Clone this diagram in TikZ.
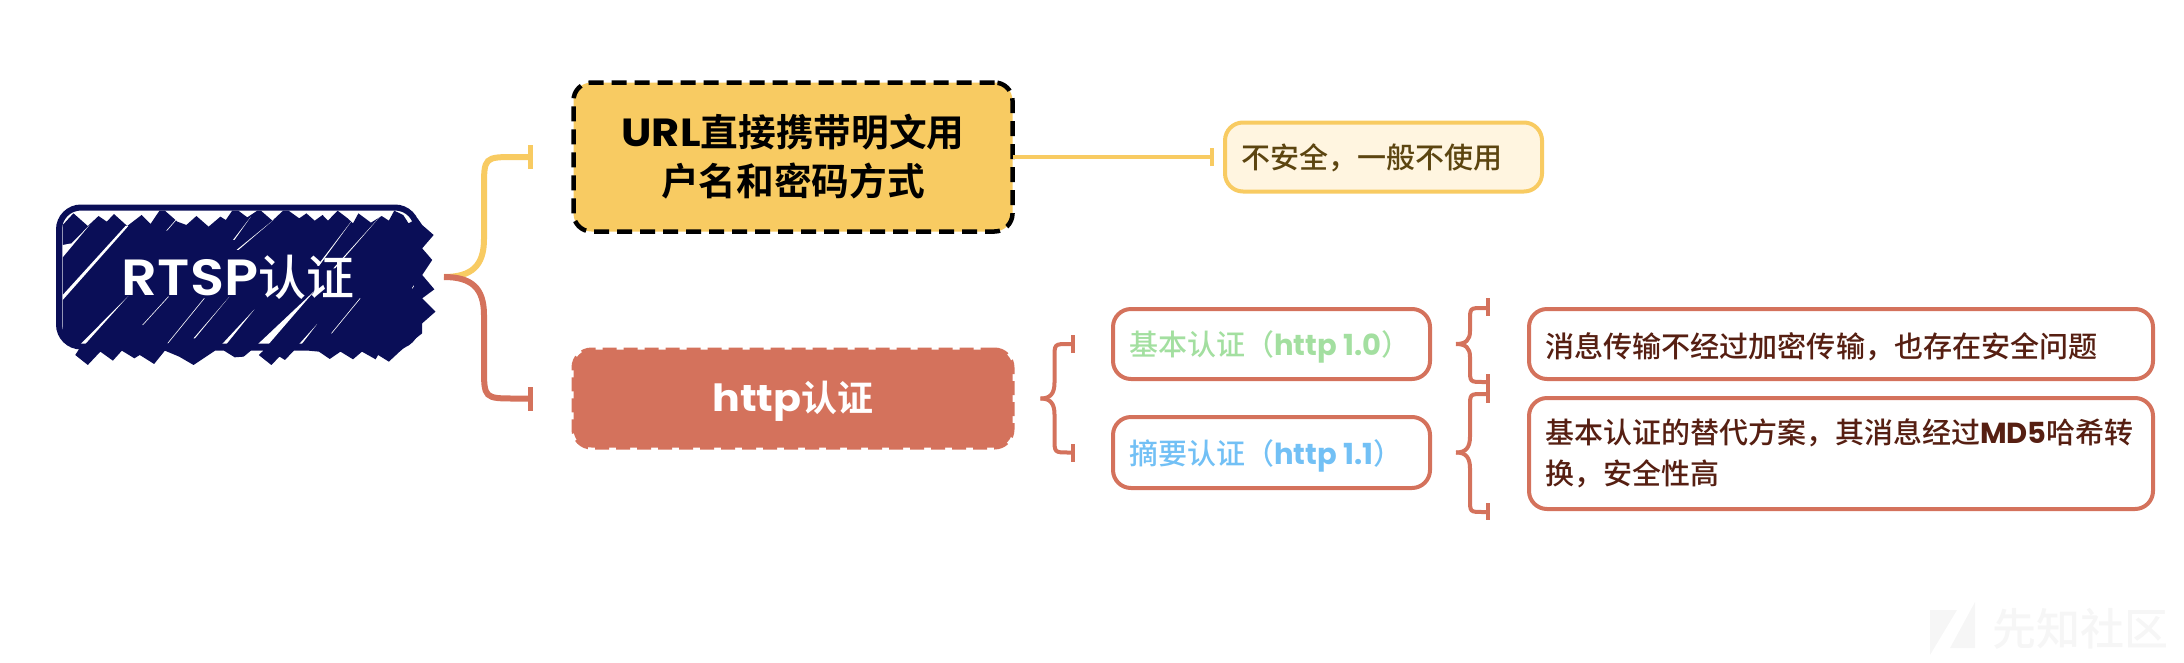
\documentclass[tikz,border=0pt]{standalone}
\usepackage{fontspec}
\newfontfamily\cjk{Noto Sans CJK SC}[UprightFont={* Medium},BoldFont={* Bold}]
\newfontfamily\lat{Poppins}[UprightFont={* Medium},BoldFont={* Bold},Scale=1.04,FakeStretch=1.1]
\newfontfamily\latsemi{Poppins SemiBold}[Scale=1.06,FakeStretch=1.1]
\newfontfamily\latsm{Poppins}[BoldFont={* Bold}]
\newcommand\la[1]{{\lat\bfseries #1}}
\newcommand\las[1]{{\latsm\bfseries #1}}
\definecolor{navy}{HTML}{0A0E57}
\definecolor{gold}{HTML}{F8CB62}
\definecolor{brick}{HTML}{D4725C}
\definecolor{cream}{HTML}{FFF5E0}
\definecolor{umber}{HTML}{5C4510}
\definecolor{maroon}{HTML}{561F12}
\definecolor{leaf}{HTML}{A3DFA0}
\definecolor{sky}{HTML}{72C0F5}
\definecolor{wmgray}{HTML}{F6F6F6}
\newcommand\fs[2]{\fontsize{#1}{#2}\selectfont\cjk}
\newcommand\lowered[2]{\raisebox{-#1pt}[\height][\depth]{#2}}
\newcommand\bracearm[6]{% tip, end, dx, dy, radius, colour
  \path (#1) ++(#3,#4) coordinate (bm);
  \coordinate (bc) at (bm |- #2);
  \draw[#6] (#1) .. controls +({0.7*(#3)},0) and +(0,{-0.7*(#4)}) .. (bm)
     -- ([yshift={sign(#4)*#5*1pt}]bc) .. controls (bc) .. ([xshift=#5pt]bc) -- (#2);}
\tikzset{
  x=1pt,y=-1pt,
  box/.style={rounded corners=18pt,line width=4pt,outer sep=0pt,inner xsep=16pt,inner ysep=0pt,align=left},
  tickbar/.style={line width=4pt},
}
\begin{document}
\begin{tikzpicture}
\useasboundingbox (0,0) rectangle (2184,662);
% sketchy fill of the root
\begin{scope}[shift={(0,160)},xscale=0.3584,yscale=0.3333]
\fill[navy] (175,195)--(205,160)--(245,198)--(275,168)--(298,185)--(318,162)--(355,198)--(395,165)--(420,192)--(445,152)--(460,152)--(495,185)--(520,195)--(548,168)--(582,200)--(615,170)--(630,180)--(648,152)--(665,152)--(690,172)--(718,152)--(728,152)--(760,182)--(790,152)--(805,152)--(835,175)--(855,160)--(878,182)--(900,165)--(915,182)--(942,152)--(970,175)--(985,190)--(1000,160)--(1035,188)--(1065,168)--(1085,182)--(1100,152)--(1125,165)--(1140,190)--(1165,175)--(1178,195)--(1210,225)--(1178,265)--(1206,300)--(1178,345)--(1212,388)--(1178,415)--(1215,455)--(1178,490)--(1178,520)--(1140,552)--(1115,575)--(1085,605)--(1055,585)--(1048,598)--(1010,575)--(985,598)--(950,575)--(920,597)--(890,575)--(860,572)--(820,572)--(795,600)--(780,590)--(757,615)--(722,585)--(735,572)--(700,572)--(680,590)--(655,592)--(625,572)--(600,572)--(575,590)--(540,615)--(500,590)--(460,572)--(430,612)--(390,585)--(375,595)--(340,572)--(315,602)--(280,575)--(245,615)--(210,585)--(222,565)--(190,548)--(175,520)--cycle;
\fill[white] (175,255)--(200,250)--(250,195)--(175,292)--cycle;
\fill[white] (175,405)--(350,198)--(358,198)--(175,420)--cycle;
\fill[white] (225,552)--(238,552)--(358,408)--cycle;
\fill[white] (620,552)--(632,552)--(710,448)--cycle;
\fill[white] (720,552)--(750,552)--(880,390)--cycle;
\fill[white] (835,552)--(842,552)--(885,492)--cycle;
\fill[white] (540,535)--(544,535)--(640,410)--cycle;
\fill[white] (650,240)--(654,240)--(700,170)--cycle;
\fill[white] (660,270)--(665,270)--(765,178)--cycle;
\fill[white] (885,318)--(890,318)--(990,170)--cycle;
\fill[white] (930,325)--(935,325)--(1060,170)--cycle;
\fill[white] (1130,550)--(1138,550)--(1160,515)--cycle;
\draw[white,line width=.6pt] (398,495)--(470,410) (468,550)--(570,415) (925,520)--(1005,415) (1150,385)--(1160,370) (465,212)--(495,175);
\end{scope}
% nodes
\node[box,draw=navy,rounded corners=22pt,line width=6pt,minimum width=358pt,minimum height=139pt,text=white,font=\fs{48}{50}] (root) at (238,277) {{\latsemi RTSP}认证};
\node[box,fill=gold,draw=black,dash pattern=on 15pt off 8pt,line width=4.5pt,minimum width=439pt,minimum height=149pt,align=center,text=black,font=\fs{37.7}{49}\bfseries] (url) at (793,157) {\la{URL}直接携带明文用\\户名和密码方式};
\node[box,fill=brick,draw=brick,dash pattern=on 14pt off 7pt,minimum width=439pt,minimum height=98pt,align=center,text=white,font=\fs{36}{40}\bfseries] (http) at (793,398.5) {\lowered{3}{\la{http}认证}};
\node[box,fill=cream,draw=gold,minimum width=317pt,minimum height=69pt,text width=285pt,text=umber,font=\fs{29}{41}] (note) at (1383.5,157) {\lowered{1}{不安全，一般不使用}};
\node[box,draw=brick,minimum width=317pt,minimum height=70pt,text width=285pt,text=leaf,font=\fs{29}{41}] (basic) at (1271.5,344) {\lowered{3}{基本认证（\las{http\hspace{7pt}1.0}）}};
\node[box,draw=brick,minimum width=317pt,minimum height=71pt,text width=285pt,text=sky,font=\fs{29}{41}] (digest) at (1271.5,452.5) {\lowered{3}{摘要认证（\las{http\hspace{7pt}1.1}）}};
\node[box,draw=brick,minimum width=624pt,minimum height=70pt,text width=592pt,text=maroon,font=\fs{29.1}{41}] (plain) at (1841,344) {\lowered{3}{消息传输不经过加密传输，也存在安全问题}};
\node[box,draw=brick,minimum width=624pt,minimum height=111pt,text width=592pt,text=maroon,font=\fs{29}{41}] (hash) at (1841,453.5) {基本认证的替代方案，其消息经过\las{MD5}哈希转\\换，安全性高};
% connector anchors
\coordinate (rootout) at ([xshift=27pt]root.east);
\coordinate (urlin) at ([xshift=-43pt]url.west);
\coordinate (httpin) at ([xshift=-43pt]http.west);
\coordinate (noteIn) at ([xshift=-13pt]note.west);
\coordinate (httpout) at ([xshift=28pt]http.east);
\coordinate (basicin) at ([xshift=-40pt]basic.west);
\coordinate (digestin) at ([xshift=-40pt]digest.west);
\coordinate (basicout) at ([xshift=26pt]basic.east);
\coordinate (plainup) at (1488,308);
\coordinate (plaindown) at (1488,382);
\coordinate (digestout) at ([xshift=26pt]digest.east);
\coordinate (hashup) at (1488,394);
\coordinate (hashdown) at (1488,512);
% root braces
\begin{scope}[line width=6pt]
\bracearm{rootout}{urlin}{40}{-38}{32}{gold}
\bracearm{rootout}{httpin}{40}{38}{32}{brick}
\draw[gold,line width=5pt] ([yshift=-12pt]urlin)--([yshift=12pt]urlin);
\draw[brick,line width=5pt] ([yshift=-12pt]httpin)--([yshift=12pt]httpin);
\end{scope}
% url to note
\draw[gold,line width=4pt] (url.east)--(noteIn);
\draw[gold,tickbar] ([yshift=-9pt]noteIn)--([yshift=9pt]noteIn);
% second level braces
\begin{scope}[line width=4pt]
\bracearm{httpout}{basicin}{14}{-16}{14}{brick}
\bracearm{httpout}{digestin}{14}{16}{14}{brick}
\draw[brick,tickbar] ([yshift=-9pt]basicin)--([yshift=9pt]basicin);
\draw[brick,tickbar] ([yshift=-9pt]digestin)--([yshift=9pt]digestin);
\bracearm{basicout}{plainup}{14}{-13}{13}{brick}
\bracearm{basicout}{plaindown}{14}{13}{13}{brick}
\bracearm{digestout}{hashup}{14}{-16}{13}{brick}
\bracearm{digestout}{hashdown}{14}{16}{13}{brick}
\draw[brick,tickbar] (1488,298)--(1488,316);
\draw[brick,tickbar] (1488,374)--(1488,403);
\draw[brick,tickbar] (1488,503)--(1488,520);
\end{scope}
% watermark
\fill[wmgray] (1930,610)--(1957,610)--(1930,655)--cycle (1975,602)--(1975,648)--(1950,648)--cycle;
\node[text=wmgray,inner sep=0pt,font=\fs{44}{44}] (wm) at (2080,629) {先知社区};
\end{tikzpicture}
\end{document}
